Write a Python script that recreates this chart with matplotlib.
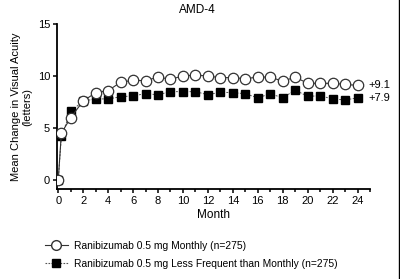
import matplotlib.pyplot as plt
from matplotlib.lines import Line2D
from matplotlib.ticker import MultipleLocator

plt.rcParams['font.family'] = ['Liberation Sans Narrow', 'Liberation Sans', 'DejaVu Sans']

months = [0, 0.25] + list(range(1, 25))
monthly = [0, 4.5, 6.0, 7.6, 8.4, 8.6, 9.4, 9.6, 9.55, 9.9, 9.7, 10.0, 10.1,
           10.0, 9.85, 9.85, 9.75, 9.9, 9.9, 9.5, 9.9, 9.3, 9.3, 9.3, 9.2, 9.1]
less_freq = [0, 4.2, 6.6, 7.6, 7.8, 7.8, 8.0, 8.1, 8.3, 8.2, 8.5, 8.5, 8.5,
             8.2, 8.45, 8.4, 8.3, 7.9, 8.3, 7.9, 8.65, 8.05, 8.1, 7.8, 7.7, 7.9]
end_labels = ["+9.1", "+7.9"]
legend_labels = ["Ranibizumab 0.5 mg Monthly (n=275)",
                 "Ranibizumab 0.5 mg Less Frequent than Monthly (n=275)"]

fig = plt.figure(figsize=(4, 2.79), dpi=100)
ax = fig.add_axes([0.1425, 0.3226, 0.7825, 0.591])

ax.plot(months, less_freq, color='#555555', lw=0.7, ls=(0, (2, 1.5)),
        marker='s', ms=6, mfc='black', mec='black', zorder=2)
ax.plot(months, monthly, color='#333333', lw=0.8, ls='-',
        marker='o', ms=7.5, mfc='white', mec='#333333', mew=0.9, zorder=3)

ax.set_xlim(-0.1, 25)
ax.set_ylim(-0.87, 15)
ax.xaxis.set_major_locator(MultipleLocator(2))
ax.xaxis.set_minor_locator(MultipleLocator(1))
ax.set_yticks([0, 5, 10, 15])
ax.spines['top'].set_visible(False)
ax.spines['right'].set_visible(False)
for s in ['left', 'bottom']:
    ax.spines[s].set_linewidth(1.3)
ax.tick_params(axis='both', which='major', labelsize=8, length=3, width=1.1, pad=2)
ax.tick_params(axis='x', which='minor', length=2.5, width=1.1)

ax.text(24.9, monthly[-1], end_labels[0], fontsize=8, va='center', ha='left', clip_on=False)
ax.text(24.9, less_freq[-1], end_labels[1], fontsize=8, va='center', ha='left', clip_on=False)

ax.set_xlabel("Month", fontsize=8.5, labelpad=2)
ax.set_ylabel("Mean Change in Visual Acuity\n(letters)", fontsize=8, labelpad=4, linespacing=1.1)
fig.text(0.4925, 0.963, "AMD-4", fontsize=8.5, ha='center', va='center')

handles = [
    Line2D([], [], color='#333333', lw=0.8, marker='o', ms=7, mfc='white', mec='#333333'),
    Line2D([], [], color='#555555', lw=0.8, ls=(0, (1.5, 1.2)), marker='s', ms=5.5, mfc='black', mec='black'),
]
fig.legend(handles, legend_labels, loc='upper left', bbox_to_anchor=(0.1, 0.155),
           frameon=False, fontsize=7.4, handlelength=2.2, handletextpad=0.6,
           labelspacing=0.75, borderpad=0)

fig.add_artist(Line2D([0.997, 0.997], [0, 1], color='black', lw=1.0, transform=fig.transFigure))

fig.savefig("out.png", dpi=100)
